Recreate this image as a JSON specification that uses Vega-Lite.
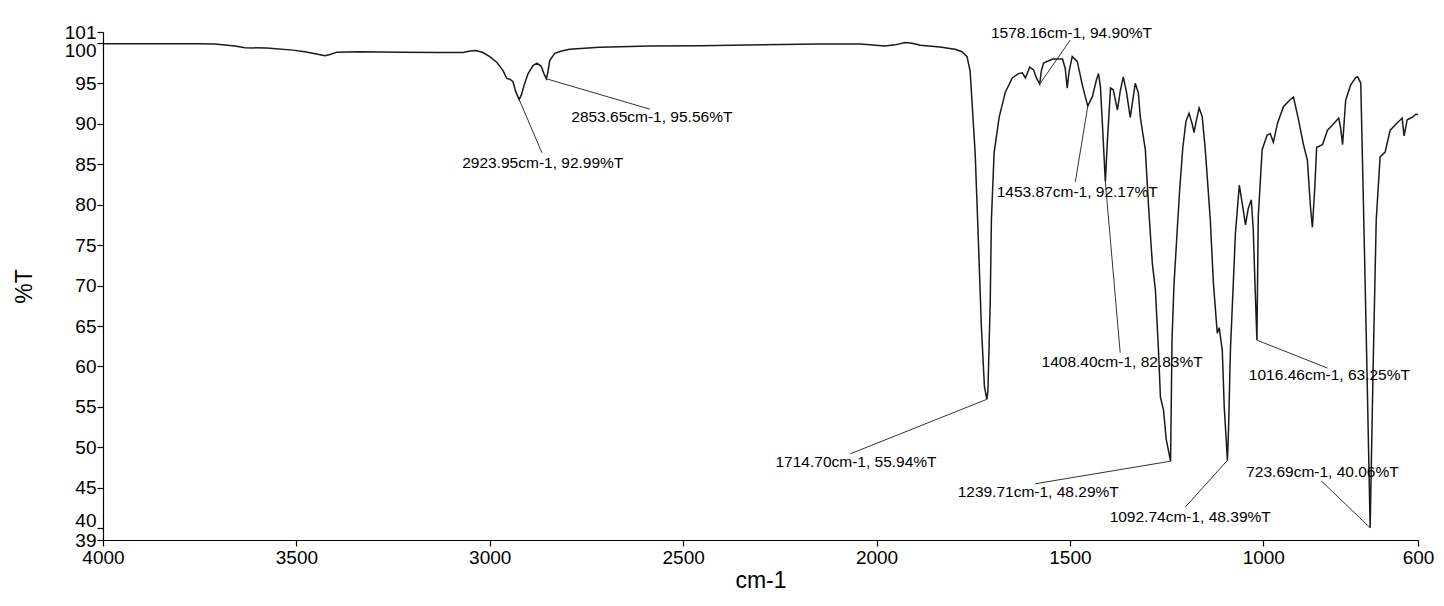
{
  "$schema": "https://vega.github.io/schema/vega-lite/v6.json",
  "width": 1315,
  "height": 508,
  "autosize": "none",
  "padding": {"left": 103, "top": 32, "right": 26, "bottom": 66},
  "background": "white",
  "config": {
    "view": {"stroke": null},
    "font": "Liberation Sans",
    "axis": {
      "grid": false,
      "domainColor": "black",
      "domainWidth": 1.2,
      "tickColor": "black",
      "tickWidth": 1.2,
      "tickSize": 6,
      "labelColor": "black",
      "labelFont": "Liberation Sans",
      "labelFontSize": 19,
      "labelOverlap": false,
      "labelFlush": false,
      "titleColor": "black",
      "titleFont": "Liberation Sans",
      "titleFontSize": 23,
      "titleFontWeight": "normal"
    }
  },
  "datasets": {
    "spec": [
      {"wn": 4000, "t": 99.9}, {"wn": 3879, "t": 99.9}, {"wn": 3750, "t": 99.9}, {"wn": 3711, "t": 99.85},
      {"wn": 3659, "t": 99.6}, {"wn": 3633, "t": 99.4}, {"wn": 3577, "t": 99.35}, {"wn": 3509, "t": 99.1},
      {"wn": 3478, "t": 98.9}, {"wn": 3445, "t": 98.6}, {"wn": 3426, "t": 98.4}, {"wn": 3413, "t": 98.55},
      {"wn": 3395, "t": 98.85}, {"wn": 3336, "t": 98.9}, {"wn": 3232, "t": 98.85}, {"wn": 3129, "t": 98.8},
      {"wn": 3069, "t": 98.8}, {"wn": 3051, "t": 99.0}, {"wn": 3036, "t": 99.05}, {"wn": 3018, "t": 98.8},
      {"wn": 3000, "t": 98.3}, {"wn": 2982, "t": 97.6}, {"wn": 2966, "t": 96.6}, {"wn": 2956, "t": 95.6},
      {"wn": 2948, "t": 95.5}, {"wn": 2940, "t": 95.2}, {"wn": 2933, "t": 94.0}, {"wn": 2923.95, "t": 92.99},
      {"wn": 2918, "t": 93.6}, {"wn": 2911, "t": 94.8}, {"wn": 2901, "t": 96.2}, {"wn": 2888, "t": 97.2},
      {"wn": 2878, "t": 97.5}, {"wn": 2867, "t": 97.1}, {"wn": 2860, "t": 96.2}, {"wn": 2853.65, "t": 95.56},
      {"wn": 2850, "t": 96.3}, {"wn": 2845, "t": 97.8}, {"wn": 2832, "t": 98.7}, {"wn": 2814, "t": 99.0},
      {"wn": 2794, "t": 99.2}, {"wn": 2716, "t": 99.45}, {"wn": 2586, "t": 99.6}, {"wn": 2457, "t": 99.65},
      {"wn": 2249, "t": 99.8}, {"wn": 2145, "t": 99.85}, {"wn": 2042, "t": 99.85}, {"wn": 1978, "t": 99.6},
      {"wn": 1952, "t": 99.75}, {"wn": 1926, "t": 100.05}, {"wn": 1908, "t": 99.95}, {"wn": 1887, "t": 99.7},
      {"wn": 1836, "t": 99.5}, {"wn": 1797, "t": 99.2}, {"wn": 1779, "t": 98.9}, {"wn": 1766, "t": 98.3},
      {"wn": 1758, "t": 96.5}, {"wn": 1753, "t": 92.6}, {"wn": 1745, "t": 86.4}, {"wn": 1737, "t": 76},
      {"wn": 1729, "t": 65}, {"wn": 1721, "t": 57.5}, {"wn": 1714.7, "t": 55.94}, {"wn": 1712, "t": 57},
      {"wn": 1706, "t": 68}, {"wn": 1703, "t": 78.1}, {"wn": 1696, "t": 86.4}, {"wn": 1683, "t": 90.8},
      {"wn": 1667, "t": 93.9}, {"wn": 1649, "t": 95.66}, {"wn": 1633, "t": 96.2}, {"wn": 1623, "t": 96.3},
      {"wn": 1615, "t": 95.66}, {"wn": 1604, "t": 97.0}, {"wn": 1594, "t": 96.65}, {"wn": 1586, "t": 95.6},
      {"wn": 1578.16, "t": 94.9}, {"wn": 1574, "t": 96.5}, {"wn": 1568, "t": 97.5}, {"wn": 1545, "t": 98.0},
      {"wn": 1519, "t": 98.0}, {"wn": 1512, "t": 96.8}, {"wn": 1507, "t": 94.4}, {"wn": 1502, "t": 96.5},
      {"wn": 1494, "t": 98.3}, {"wn": 1481, "t": 97.7}, {"wn": 1468, "t": 94.8}, {"wn": 1453.87, "t": 92.17},
      {"wn": 1442, "t": 93.35}, {"wn": 1431, "t": 95.5}, {"wn": 1426, "t": 96.2}, {"wn": 1421, "t": 94.5},
      {"wn": 1416, "t": 90}, {"wn": 1408.4, "t": 82.83}, {"wn": 1403, "t": 88}, {"wn": 1395, "t": 94.4},
      {"wn": 1388, "t": 94.2}, {"wn": 1377, "t": 91.7}, {"wn": 1370, "t": 94.0}, {"wn": 1362, "t": 95.8},
      {"wn": 1354, "t": 94}, {"wn": 1344, "t": 90.8}, {"wn": 1331, "t": 95.0}, {"wn": 1323, "t": 93.8},
      {"wn": 1318, "t": 90.8}, {"wn": 1305, "t": 86.8}, {"wn": 1297, "t": 80}, {"wn": 1287, "t": 72.8},
      {"wn": 1279, "t": 69.5}, {"wn": 1271, "t": 62}, {"wn": 1266, "t": 56.2}, {"wn": 1258, "t": 54.6},
      {"wn": 1251, "t": 51}, {"wn": 1239.71, "t": 48.29}, {"wn": 1236, "t": 63.3}, {"wn": 1231, "t": 70},
      {"wn": 1223, "t": 76.5}, {"wn": 1216, "t": 82}, {"wn": 1208, "t": 87.1}, {"wn": 1200, "t": 90.3},
      {"wn": 1192, "t": 91.3}, {"wn": 1184, "t": 90.0}, {"wn": 1179, "t": 88.9}, {"wn": 1174, "t": 90.2},
      {"wn": 1166, "t": 91.95}, {"wn": 1158, "t": 90.9}, {"wn": 1150, "t": 86.8}, {"wn": 1137, "t": 78.1},
      {"wn": 1129, "t": 70.3}, {"wn": 1119, "t": 64.1}, {"wn": 1114, "t": 64.8}, {"wn": 1106, "t": 62.0},
      {"wn": 1101, "t": 55}, {"wn": 1092.74, "t": 48.39}, {"wn": 1090, "t": 52}, {"wn": 1085, "t": 62},
      {"wn": 1072, "t": 76.5}, {"wn": 1062, "t": 82.4}, {"wn": 1054, "t": 80}, {"wn": 1046, "t": 77.5},
      {"wn": 1039, "t": 79.5}, {"wn": 1031, "t": 80.6}, {"wn": 1026, "t": 77}, {"wn": 1021, "t": 69.5},
      {"wn": 1016.46, "t": 63.25}, {"wn": 1013, "t": 78.5}, {"wn": 1003, "t": 86.8}, {"wn": 990, "t": 88.6},
      {"wn": 982, "t": 88.8}, {"wn": 974, "t": 87.7}, {"wn": 963, "t": 90.1}, {"wn": 948, "t": 92.1},
      {"wn": 930, "t": 93.0}, {"wn": 922, "t": 93.3}, {"wn": 909, "t": 90.5}, {"wn": 896, "t": 87.4},
      {"wn": 886, "t": 85.5}, {"wn": 878, "t": 79.7}, {"wn": 873, "t": 77.2}, {"wn": 867, "t": 82},
      {"wn": 862, "t": 87.1}, {"wn": 847, "t": 87.4}, {"wn": 834, "t": 89.2}, {"wn": 821, "t": 89.85},
      {"wn": 805, "t": 90.7}, {"wn": 800, "t": 89.5}, {"wn": 795, "t": 87.4}, {"wn": 787, "t": 92.9},
      {"wn": 774, "t": 94.8}, {"wn": 761, "t": 95.7}, {"wn": 756, "t": 95.8}, {"wn": 748, "t": 95.0},
      {"wn": 741, "t": 80}, {"wn": 733, "t": 62}, {"wn": 723.69, "t": 40.06}, {"wn": 716, "t": 60},
      {"wn": 708, "t": 78.1}, {"wn": 698, "t": 85.9}, {"wn": 685, "t": 86.5}, {"wn": 672, "t": 89.2},
      {"wn": 654, "t": 90.1}, {"wn": 641, "t": 90.7}, {"wn": 636, "t": 88.5}, {"wn": 628, "t": 90.5},
      {"wn": 615, "t": 90.8}, {"wn": 605, "t": 91.2}, {"wn": 600, "t": 91.1}
    ],
    "peaks": [
      {"wn": 2923.95, "t": 92.99, "lx": 2865, "ly": 86.4, "tx": 2863, "ty": 85.15, "label": "2923.95cm-1, 92.99%T"},
      {"wn": 2853.65, "t": 95.56, "lx": 2586, "ly": 91.8, "tx": 2581, "ty": 90.8, "label": "2853.65cm-1, 95.56%T"},
      {"wn": 1578.16, "t": 94.9, "lx": 1499, "ly": 100.36, "tx": 1496, "ty": 101.2, "label": "1578.16cm-1, 94.90%T"},
      {"wn": 1453.87, "t": 92.17, "lx": 1486, "ly": 82.8, "tx": 1481, "ty": 81.6, "label": "1453.87cm-1, 92.17%T"},
      {"wn": 1408.4, "t": 82.83, "lx": 1370, "ly": 61.7, "tx": 1365, "ty": 60.55, "label": "1408.40cm-1, 82.83%T"},
      {"wn": 1714.7, "t": 55.94, "lx": 2068, "ly": 49.2, "tx": 2053, "ty": 48.2, "label": "1714.70cm-1, 55.94%T"},
      {"wn": 1239.71, "t": 48.29, "lx": 1590, "ly": 45.5, "tx": 1582, "ty": 44.5, "label": "1239.71cm-1, 48.29%T"},
      {"wn": 1092.74, "t": 48.39, "lx": 1202, "ly": 42.6, "tx": 1189, "ty": 41.4, "label": "1092.74cm-1, 48.39%T"},
      {"wn": 1016.46, "t": 63.25, "lx": 834, "ly": 59.8, "tx": 829, "ty": 58.95, "label": "1016.46cm-1, 63.25%T"},
      {"wn": 723.69, "t": 40.06, "lx": 850, "ly": 45.85, "tx": 847, "ty": 46.96, "label": "723.69cm-1, 40.06%T"}
    ]
  },
  "encoding": {
    "x": {
      "type": "quantitative",
      "scale": {"domain": [600, 4000], "reverse": true, "nice": false, "zero": false},
      "axis": {"title": "cm-1", "values": [4000, 3500, 3000, 2500, 2000, 1500, 1000, 600], "format": "d", "titlePadding": 2}
    },
    "y": {
      "type": "quantitative",
      "scale": {"domain": [38.55, 101.34], "nice": false, "zero": false},
      "axis": {
        "title": "%T",
        "values": [38.55, 40, 45, 50, 55, 60, 65, 70, 75, 80, 85, 90, 95, 100, 101.34],
        "format": ".0f",
        "labelPadding": 1,
        "labelOffset": {"condition": [
          {"test": "datum.value == 100", "value": 8},
          {"test": "datum.value == 40", "value": -8}
        ], "value": 0},
        "titlePadding": 28
      }
    }
  },
  "layer": [
    {
      "data": {"name": "spec"},
      "mark": {"type": "line", "color": "#1a1a1a", "strokeWidth": 1.5},
      "encoding": {
        "x": {"field": "wn", "type": "quantitative"},
        "y": {"field": "t", "type": "quantitative"}
      }
    },
    {
      "data": {"name": "peaks"},
      "mark": {"type": "rule", "color": "#333333", "strokeWidth": 1},
      "encoding": {
        "x": {"field": "wn", "type": "quantitative"},
        "y": {"field": "t", "type": "quantitative"},
        "x2": {"field": "lx"},
        "y2": {"field": "ly"}
      }
    },
    {
      "data": {"name": "peaks"},
      "mark": {"type": "text", "font": "Liberation Sans", "fontSize": 15.5, "color": "black", "align": "center", "baseline": "middle"},
      "encoding": {
        "x": {"field": "tx", "type": "quantitative"},
        "y": {"field": "ty", "type": "quantitative"},
        "text": {"field": "label"}
      }
    }
  ]
}
